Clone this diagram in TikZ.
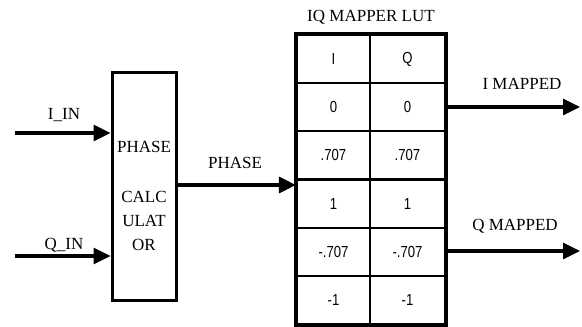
\documentclass[tikz,border=0pt]{standalone}
\usepackage{fontspec}
\setmainfont{Liberation Serif}
\newfontfamily\cellfont[FakeStretch=0.82]{Liberation Sans}
\usetikzlibrary{arrows.meta}
\begin{document}
\begin{tikzpicture}[x=1pt,y=-1pt,
  lbl/.style={font=\fontsize{17}{17}\selectfont, inner sep=0pt},
  cell/.style={draw, line width=2.2pt, minimum height=48.17pt, inner sep=0pt, font=\cellfont\fontsize{16}{16}\selectfont},
  sig/.style={line width=3.2pt, -{Triangle[length=17pt,width=16pt]}},
  blockbox/.style={draw, line width=3pt, minimum width=64pt, minimum height=228pt, inner sep=0pt}]
\useasboundingbox (0,0) rectangle (582,327);
% phase calculator
\node[blockbox] (calc) at (144,186) {};
\node[lbl] (t1) at (144,147) {PHASE};
\node[lbl] (t2) at (144,197) {CALC};
\node[lbl] (t3) at (144,221) {ULAT};
\node[lbl] (t4) at (144,245) {OR};
% inputs
\coordinate (iin) at (15,133);
\coordinate (qin) at (15,256);
\draw[sig] (iin) -- (iin -| calc.west);
\draw[sig] (qin) -- (qin -| calc.west);
\node[lbl] (liin) at (64,115) {I\_IN};
\node[lbl] (lqin) at (64,245) {Q\_IN};
% table
\foreach \a/\b [count=\i from 0] in {I/Q,0/0,.707/.707,1/1,-.707/-.707,-1/-1}{
  \node[cell, minimum width=73pt] (c\i a) at (333.5,{35+48.17*(\i+0.5)}) {\a};
  \node[cell, minimum width=75pt] (c\i b) at (407.5,{35+48.17*(\i+0.5)}) {\b};
}
\draw[line width=3pt] (c0a.north west) rectangle (c5b.south east);
\node[lbl] (title) at (371,17) {IQ MAPPER LUT};
% phase link
\coordinate (ph) at (calc.east |- 0,185);
\draw[sig] (ph) -- (ph -| c0a.west);
\node[lbl] (lph) at (235,163) {PHASE};
% outputs
\coordinate (io) at (c0b.east |- 0,107);
\coordinate (qo) at (c0b.east |- 0,251);
\coordinate (ioe) at (580,107);
\coordinate (qoe) at (580,251);
\draw[sig] (io) -- (ioe);
\draw[sig] (qo) -- (qoe);
\node[lbl] (lio) at (522,84) {I MAPPED};
\node[lbl] (lqo) at (515,226) {Q MAPPED};
\end{tikzpicture}
\end{document}
